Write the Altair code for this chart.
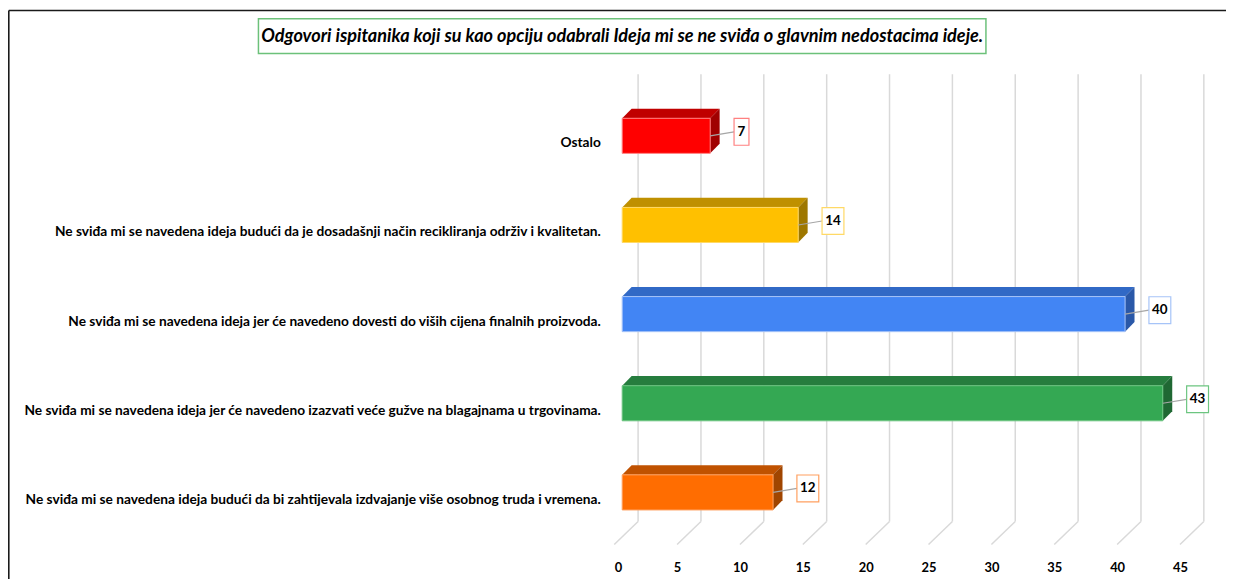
import json
import altair as alt
import pandas as pd

# ---------------- data ----------------
title_text = "Odgovori ispitanika koji su kao opciju odabrali Ideja mi se ne sviđa o glavnim nedostacima ideje."
cats = [
    "Ostalo",
    "Ne sviđa mi se navedena ideja budući da je dosadašnji način recikliranja održiv i kvalitetan.",
    "Ne sviđa mi se navedena ideja jer će navedeno dovesti do viših cijena finalnih proizvoda.",
    "Ne sviđa mi se navedena ideja jer će navedeno izazvati veće gužve na blagajnama u trgovinama.",
    "Ne sviđa mi se navedena ideja budući da bi zahtijevala izdvajanje više osobnog truda i vremena.",
]
values = [7, 14, 40, 43, 12]
x_ticks = [0, 5, 10, 15, 20, 25, 30, 35, 40, 45]

front_col = ["#FF0000", "#FFC000", "#4285F4", "#34A853", "#FF6D01"]
top_col = ["#C00000", "#BF9000", "#3169C6", "#267D3E", "#C05200"]
side_col = ["#A00000", "#9E7700", "#2A58A8", "#1F6833", "#A04500"]
edge_col = ["#FF8080", "#FFD966", "#A6C4F8", "#6CC580", "#FFA060"]

FONT = "Lato"

# ---------------- geometry helpers ----------------
PX = 12.65          # pixels per x unit
XMAX = 47
W = XMAX * PX
STEP = 89.7         # pixels per category
H = 5 * STEP
BAR = 35.3          # front face thickness (px)
DX, DY = 9.5, 9.7   # 3d depth (px)
PADL, PADT = 618, 82
OX, OY = 622, 91    # intended page position of plot origin


def ux(p):
    return p / PX


def uy(p):
    return p / STEP


front_rows, top_rows, side_rows, box_rows, lead_rows = [], [], [], [], []
for i, (c, v) in enumerate(zip(cats, values)):
    cy = i + 0.5
    t = cy - uy(BAR / 2)
    b = cy + uy(BAR / 2)
    h = uy(DY)
    d = ux(DX)
    front_rows.append(dict(k=i, x=0, x2=v, y=t, y2=b, fill=front_col[i], edge=edge_col[i]))
    for (xx, ya, yb) in [(0, t, t), (d, t - h, t), (v, t - h, t), (v + d, t - h, t - h)]:
        top_rows.append(dict(k=i, x=xx, y=ya, y2=yb, fill=top_col[i]))
    for (xx, ya, yb) in [(v, t, b), (v + d, t - h, b - h)]:
        side_rows.append(dict(k=i, x=xx, y=ya, y2=yb, fill=side_col[i]))
    wpx = 8 + 7 * len(str(v))
    bx = v + ux(24)
    byc = cy - uy(4)
    box_rows.append(dict(k=i, x=bx, x2=bx + ux(wpx), xc=bx + ux(wpx / 2),
                         y=byc - uy(13.5), y2=byc + uy(13.5), yc=byc,
                         label=str(v), edge=edge_col[i]))
    lead_rows.append(dict(k=i, x=v, y=cy, x2=bx, y2=byc))

grid_v = pd.DataFrame([dict(x=g + ux(16), y=uy(74 - OY), y2=uy(524 - OY)) for g in x_ticks])
grid_d = pd.DataFrame([dict(x=g + ux(16), y=uy(524 - OY), x2=g + ux(-8), y2=uy(547 - OY)) for g in x_ticks])

front_df = pd.DataFrame(front_rows)
top_df = pd.DataFrame(top_rows)
side_df = pd.DataFrame(side_rows)
box_df = pd.DataFrame(box_rows)
lead_df = pd.DataFrame(lead_rows)
one = pd.DataFrame({"a": [0]})

xs = alt.Scale(domain=[0, XMAX], nice=False, zero=False)
ys = alt.Scale(domain=[0, 5], nice=False, zero=False, reverse=True)

label_expr = json.dumps(cats) + "[floor(datum.value)]"

X_AX = alt.Axis(values=x_ticks, domain=False, ticks=False, tickSize=0, grid=False,
                labelPadding=25, labelOffset=-8, labelFont=FONT, labelFontSize=13,
                labelFontWeight="bold", labelColor="#000000", title=None)
Y_AX = alt.Axis(values=[i + 0.5 for i in range(5)], labelExpr=label_expr, domain=False,
                ticks=False, tickSize=0, grid=False, labelPadding=22, labelOffset=7,
                labelFont=FONT, labelFontSize=13.8, labelFontWeight="bold",
                labelColor="#000000", labelLimit=2000, title=None)


def X(f):
    return alt.X(f, scale=xs, axis=X_AX)


def Y(f):
    return alt.Y(f, scale=ys, axis=Y_AX)


gridv = alt.Chart(grid_v).mark_rule(color="#D9D9D9", strokeWidth=1.5).encode(
    x=X("x:Q"), y=Y("y:Q"), y2="y2:Q")
gridd = alt.Chart(grid_d).mark_rule(color="#D9D9D9", strokeWidth=1.5).encode(
    x=X("x:Q"), x2="x2:Q", y=Y("y:Q"), y2="y2:Q")

top_layer = alt.Chart(top_df).mark_area(orient="vertical", interpolate="linear").encode(
    x=X("x:Q"), y=Y("y:Q"), y2="y2:Q",
    color=alt.Color("fill:N", scale=None), detail="k:N")
side_layer = alt.Chart(side_df).mark_area(orient="vertical", interpolate="linear").encode(
    x=X("x:Q"), y=Y("y:Q"), y2="y2:Q",
    color=alt.Color("fill:N", scale=None), detail="k:N")
front_layer = alt.Chart(front_df).mark_rect(strokeWidth=1).encode(
    x=X("x:Q"), x2="x2:Q", y=Y("y:Q"), y2="y2:Q",
    fill=alt.Fill("fill:N", scale=None), stroke=alt.Stroke("edge:N", scale=None))

lead_layer = alt.Chart(lead_df).mark_rule(color="#A6A6A6", strokeWidth=1.2).encode(
    x=X("x:Q"), x2="x2:Q", y=Y("y:Q"), y2="y2:Q")
box_layer = alt.Chart(box_df).mark_rect(fill="white", strokeWidth=1.2).encode(
    x=X("x:Q"), x2="x2:Q", y=Y("y:Q"), y2="y2:Q",
    stroke=alt.Stroke("edge:N", scale=None))
box_text = alt.Chart(box_df).mark_text(font=FONT, fontSize=13.5, fontWeight="bold",
                                       color="#000000", baseline="middle", align="center").encode(
    x=X("xc:Q"), y=Y("yc:Q"), text="label:N")

# title box and text (page coordinates relative to plot origin)
title_box = alt.Chart(one).mark_rect(fill="white", stroke="#6CC17A", strokeWidth=1.5).encode(
    x=alt.value(256 - OX), x2=alt.value(988 - OX), y=alt.value(18 - OY), y2=alt.value(53 - OY))
title_mark = alt.Chart(one).mark_text(text=title_text, font=FONT, fontSize=18.2, fontWeight="bold",
                                      fontStyle="italic", color="#000000", align="center",
                                      baseline="middle").encode(
    x=alt.value(0), y=alt.value(36 - OY))

# outer frame lines (at the very edge of the drawing)
frame_top = alt.Chart(one).mark_rule(color="#1A1A1A", strokeWidth=1.6).encode(
    x=alt.value(-PADL + 0.8), x2=alt.value(1234 - OX), y=alt.value(-PADT + 0.8))
frame_left = alt.Chart(one).mark_rule(color="#1A1A1A", strokeWidth=1.6).encode(
    x=alt.value(-PADL + 0.8), y=alt.value(-PADT + 0.8), y2=alt.value(585 - OY))

chart = alt.layer(
    gridv, gridd, top_layer, side_layer, front_layer, lead_layer, box_layer, box_text,
    title_box, title_mark, frame_top, frame_left,
).properties(
    width=W, height=H,
    autosize=alt.AutoSizeParams(type="none"),
    padding={"left": PADL, "top": PADT, "right": 13, "bottom": 40},
    background="white",
).configure_view(stroke=None)

chart.save("out.html", embed_options={"renderer": "svg", "actions": False})
